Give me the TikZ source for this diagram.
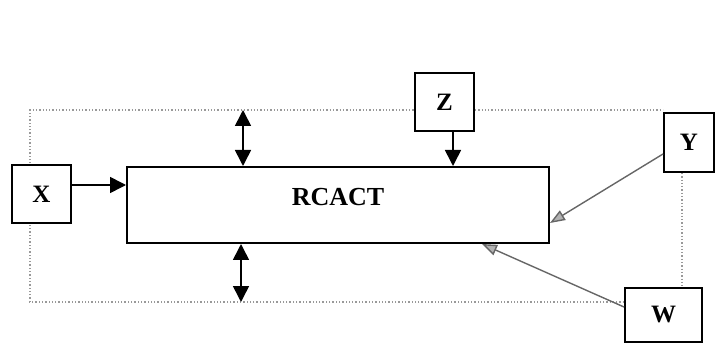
\documentclass[tikz,border=0pt]{standalone}
\usepackage{fontspec}
\setmainfont{Liberation Serif}
\usetikzlibrary{arrows.meta}
\begin{document}
\begin{tikzpicture}[x=1pt,y=-1pt,
  box/.style={draw=black,line width=2pt,fill=white,inner sep=0pt,font=\fontsize{25}{28}\selectfont\bfseries},
  lbl/.style={inner sep=0pt,font=\fontsize{26}{30}\selectfont\bfseries},
  arr/.style={line width=1.6pt,-{Triangle[length=16pt,width=16pt]}},
  darr/.style={line width=1.6pt,{Triangle[length=16pt,width=16pt]}-{Triangle[length=16pt,width=16pt]}},
  garr/.style={draw=gray!80!black,line width=1.4pt,-{Triangle[length=15pt,width=11pt,fill=gray!60]}},
  dotline/.style={draw=gray!80,line width=1.3pt,dotted}]
\useasboundingbox (0,0) rectangle (719,344);
% corners of dotted frame
\coordinate (tl) at (30,110);
\coordinate (bl) at (30,302);
\coordinate (rx) at (682,0);
\coordinate (zx) at (453,0);
\coordinate (wx) at (482,0);
\coordinate (ta) at (243,110);
\coordinate (ba) at (241,302);
\coordinate (xy) at (0,185);
% dotted frame (behind boxes)
\node[box,minimum width=50pt,minimum height=59pt] (Y) at (689,142.5) {};
\node[box,minimum width=77pt,minimum height=54pt] (W) at (663.5,315) {};
\draw[dotline] (W.west |- bl) -- (bl) -- (tl) -- (Y.west |- tl);
\draw[dotline] (Y.south -| rx) -- (W.north -| rx);
% boxes
\node[box,minimum width=59pt,minimum height=58pt] (X) at (41.5,194) {X};
\node[box,minimum width=59pt,minimum height=58pt] (Z) at (444.5,102) {Z};
\node[box,minimum width=50pt,minimum height=59pt] (Y) at (689,142.5) {Y};
\node[box,minimum width=77pt,minimum height=54pt] (W) at (663.5,315) {W};
\node[box,minimum width=422pt,minimum height=76pt] (R) at (338,205) {};
\node[lbl] (RL) at (338,197) {RCACT};
% connectors
\draw[arr] (X.east |- xy) -- (R.west |- xy);
\draw[darr] (ta) -- (ta |- R.north);
\draw[darr] (ba |- R.south) -- (ba);
\draw[arr] (Z.south -| zx) -- (R.north -| zx);
\draw[garr] ([yshift=-11.5pt]Y.west) -- ([yshift=-18pt]R.east);
\draw[garr] ([yshift=8pt]W.west) -- (R.south -| wx);
\end{tikzpicture}
\end{document}
